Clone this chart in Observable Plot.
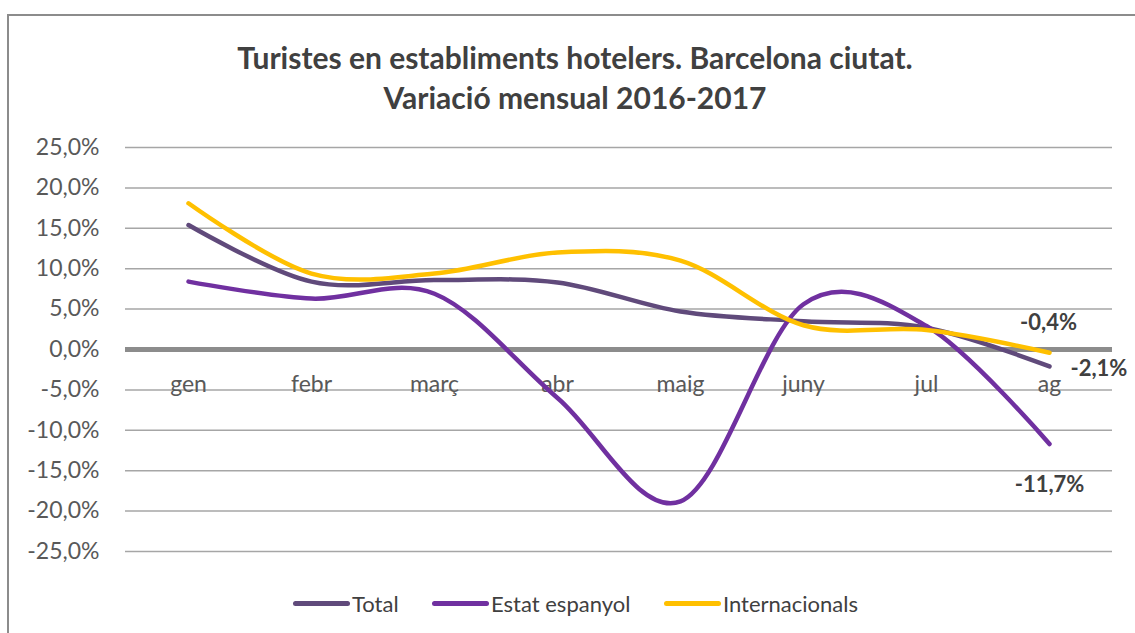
<!DOCTYPE html>
<html>
<head>
<meta charset="utf-8">
<script src="https://cdn.jsdelivr.net/npm/d3@7"></script>
<script src="https://cdn.jsdelivr.net/npm/@observablehq/plot@0.6"></script>
<style>
  html, body { margin: 0; padding: 0; background: #fff; }
  #wrap { position: relative; width: 1135px; height: 633px; overflow: hidden; font-family: Lato, "Open Sans", sans-serif; }
  #frame { position: absolute; left: 7px; top: 14px; width: 1200px; height: 700px; border-top: 2px solid #8c8c8c; border-left: 2px solid #8c8c8c; box-sizing: border-box; }
  #title { position: absolute; left: 0; top: 37px; width: 1150px; text-align: center; font-weight: bold; font-size: 30px; line-height: 40px; color: #404040; }
  #chart { position: absolute; left: 0; top: 120px; }
  #legend { position: absolute; left: 0; top: 589px; width: 1135px; height: 28px; font-size: 22px; color: #404040; }
  .item { position: absolute; top: 0; display: flex; align-items: center; height: 28px; }
  .sw { width: 57px; height: 5px; border-radius: 3px; margin-right: 2px; }
</style>
</head>
<body>
<div id="wrap">
  <div id="frame"></div>
  <div id="title">Turistes en establiments hotelers. Barcelona ciutat.<br>Variació mensual 2016-2017</div>
  <div id="chart"></div>
  <div id="legend"></div>
</div>
<script>
const months = ["gen", "febr", "març", "abr", "maig", "juny", "jul", "ag"];
const total = [15.4, 8.4, 8.6, 8.3, 4.7, 3.5, 2.7, -2.1];
const estat = [8.4, 6.3, 6.9, -6.0, -18.8, 5.6, 2.9, -11.7];
const internacionals = [18.1, 9.4, 9.4, 12.0, 11.0, 3.0, 2.4, -0.4];
const seriesNames = ["Total", "Estat espanyol", "Internacionals"];
const seriesColors = ["#604A7B", "#7030A0", "#FFC000"];
const yTicks = [25, 20, 15, 10, 5, 0, -5, -10, -15, -20, -25];
const endLabels = ["-2,1%", "-11,7%", "-0,4%"];

const seriesValues = [total, estat, internacionals];
const rows = [];
seriesNames.forEach((name, si) => {
  months.forEach((m, i) => rows.push({series: name, month: m, value: seriesValues[si][i]}));
});
const ends = seriesNames.map((name, si) => ({series: name, month: months[months.length - 1], value: seriesValues[si][months.length - 1], label: endLabels[si]}));

const fmt = d => d.toFixed(1).replace(".", ",") + "%";

const chart = Plot.plot({
  width: 1135,
  height: 470,
  marginTop: 27,
  marginBottom: 39,
  marginLeft: 125,
  marginRight: 23,
  style: {fontFamily: "Lato, 'Open Sans', sans-serif", fontSize: "23px", color: "#595959", background: "transparent", overflow: "visible"},
  x: {type: "point", domain: months, padding: 0.5, axis: null},
  y: {domain: [-25, 25], axis: null},
  color: {domain: seriesNames, range: seriesColors},
  marks: [
    Plot.ruleY(yTicks.filter(d => d !== 0), {stroke: "#a6a6a6", strokeWidth: 1.5}),
    Plot.ruleY([0], {stroke: "#8c8c8c", strokeWidth: 5}),
    Plot.axisY({ticks: yTicks, tickFormat: fmt, tickSize: 0, tickPadding: 26, fontSize: 23, color: "#595959", label: null}),
    Plot.text(months, {x: d => d, y: () => 0, text: d => d, dy: 35, fill: "#595959", fontSize: 23}),
    Plot.line(rows, {x: "month", y: "value", z: "series", stroke: "series", strokeWidth: 4.5, curve: "cardinal", tension: 0, strokeLinecap: "round"}),
    Plot.text([ends[2]], {x: "month", y: "value", text: "label", dx: -1, dy: -30, fontWeight: "bold", fill: "#404040", fontSize: 22}),
    Plot.text([ends[0]], {x: "month", y: "value", text: "label", dx: 21, dy: 2, textAnchor: "start", fontWeight: "bold", fill: "#404040", fontSize: 22}),
    Plot.text([ends[1]], {x: "month", y: "value", text: "label", dx: 0, dy: 41, fontWeight: "bold", fill: "#404040", fontSize: 22})
  ]
});
document.getElementById("chart").appendChild(chart);

const legend = document.getElementById("legend");
const lefts = [293, 432, 664];
seriesNames.forEach((name, i) => {
  const it = document.createElement("div");
  it.className = "item";
  it.style.left = lefts[i] + "px";
  it.innerHTML = `<div class="sw" style="background:${seriesColors[i]}"></div><span>${name}</span>`;
  legend.appendChild(it);
});
</script>
</body>
</html>
